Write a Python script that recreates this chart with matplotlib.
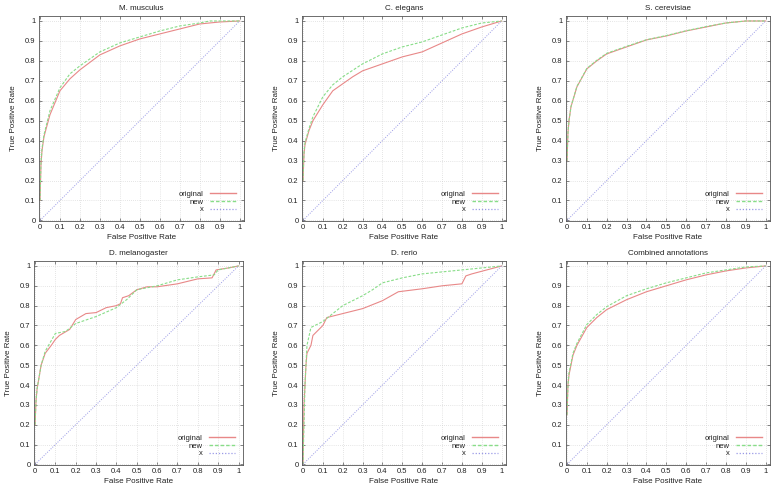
import matplotlib.pyplot as plt
from matplotlib.lines import Line2D

plt.rcParams['font.family'] = ['Liberation Sans', 'DejaVu Sans']

titles = ['M. musculus', 'C. elegans', 'S. cerevisiae',
          'D. melanogaster', 'D. rerio', 'Combined annotations']

# M. musculus
mm_fpr_orig = [0, 0.005, 0.01, 0.02, 0.05, 0.1, 0.15, 0.2, 0.3, 0.4, 0.5, 0.6, 0.7, 0.8, 0.85, 0.9, 1.0]
mm_tpr_orig = [0.1, 0.28, 0.35, 0.42, 0.53, 0.65, 0.71, 0.755, 0.83, 0.875, 0.91, 0.935, 0.96, 0.985, 0.99, 0.995, 1.0]
mm_fpr_new = [0, 0.005, 0.01, 0.02, 0.05, 0.1, 0.15, 0.2, 0.3, 0.4, 0.5, 0.6, 0.7, 0.8, 0.85, 1.0]
mm_tpr_new = [0.1, 0.29, 0.36, 0.43, 0.55, 0.665, 0.735, 0.775, 0.845, 0.89, 0.92, 0.95, 0.975, 0.99, 1.0, 1.0]

# C. elegans
ce_fpr_orig = [0, 0.005, 0.01, 0.03, 0.05, 0.1, 0.15, 0.2, 0.25, 0.3, 0.4, 0.5, 0.6, 0.7, 0.8, 0.9, 1.0]
ce_tpr_orig = [0.2, 0.33, 0.38, 0.45, 0.5, 0.58, 0.65, 0.685, 0.72, 0.75, 0.785, 0.82, 0.845, 0.89, 0.935, 0.97, 1.0]
ce_fpr_new = [0, 0.005, 0.01, 0.03, 0.05, 0.1, 0.15, 0.2, 0.3, 0.4, 0.5, 0.6, 0.7, 0.8, 0.9, 1.0]
ce_tpr_new = [0.2, 0.34, 0.39, 0.46, 0.52, 0.62, 0.68, 0.72, 0.785, 0.835, 0.87, 0.895, 0.93, 0.965, 0.99, 1.0]

# S. cerevisiae
sc_fpr_orig = [0, 0.005, 0.01, 0.02, 0.05, 0.1, 0.15, 0.2, 0.3, 0.4, 0.5, 0.6, 0.7, 0.8, 0.9, 1.0]
sc_tpr_orig = [0.3, 0.44, 0.5, 0.57, 0.67, 0.76, 0.8, 0.835, 0.87, 0.905, 0.925, 0.95, 0.97, 0.99, 1.0, 1.0]
sc_fpr_new = [0, 0.005, 0.01, 0.02, 0.05, 0.1, 0.15, 0.2, 0.3, 0.4, 0.5, 0.6, 0.7, 0.8, 0.9, 1.0]
sc_tpr_new = [0.3, 0.44, 0.5, 0.57, 0.672, 0.762, 0.803, 0.838, 0.873, 0.906, 0.927, 0.951, 0.972, 0.99, 1.0, 1.0]

# D. melanogaster
dm_fpr_orig = [0, 0.005, 0.01, 0.03, 0.05, 0.08, 0.1, 0.12, 0.17, 0.2, 0.25, 0.3, 0.35, 0.4, 0.42, 0.43,
               0.46, 0.5, 0.55, 0.6, 0.7, 0.8, 0.87, 0.89, 0.95, 1.0]
dm_tpr_orig = [0.2, 0.32, 0.38, 0.5, 0.56, 0.6, 0.63, 0.65, 0.68, 0.73, 0.76, 0.765, 0.79, 0.8, 0.81, 0.84,
               0.85, 0.88, 0.895, 0.895, 0.91, 0.935, 0.94, 0.98, 0.99, 1.0]
dm_fpr_new = [0, 0.005, 0.01, 0.03, 0.05, 0.1, 0.15, 0.2, 0.3, 0.4, 0.45, 0.5, 0.6, 0.7, 0.8, 0.88, 0.9, 1.0]
dm_tpr_new = [0.2, 0.32, 0.38, 0.5, 0.57, 0.66, 0.67, 0.71, 0.745, 0.79, 0.83, 0.88, 0.9, 0.93, 0.945, 0.955, 0.98, 1.0]

# D. rerio
dr_fpr_orig = [0, 0.005, 0.015, 0.02, 0.04, 0.05, 0.07, 0.1, 0.12, 0.2, 0.3, 0.4, 0.48, 0.6, 0.7, 0.8,
               0.82, 0.85, 1.0]
dr_tpr_orig = [0, 0.3, 0.5, 0.56, 0.6, 0.65, 0.67, 0.7, 0.74, 0.76, 0.785, 0.825, 0.87, 0.885, 0.9, 0.91,
               0.95, 0.96, 1.0]
dr_fpr_new = [0, 0.01, 0.02, 0.04, 0.1, 0.2, 0.3, 0.35, 0.4, 0.5, 0.6, 0.7, 0.8, 0.9, 1.0]
dr_tpr_new = [0, 0.4, 0.6, 0.69, 0.72, 0.8, 0.85, 0.88, 0.915, 0.94, 0.96, 0.97, 0.98, 0.99, 1.0]

# Combined annotations
ca_fpr_orig = [0, 0.005, 0.01, 0.03, 0.05, 0.1, 0.15, 0.2, 0.3, 0.4, 0.5, 0.6, 0.7, 0.8, 0.9, 1.0]
ca_tpr_orig = [0.25, 0.4, 0.45, 0.55, 0.6, 0.69, 0.74, 0.78, 0.83, 0.87, 0.9, 0.93, 0.955, 0.975, 0.99, 1.0]
ca_fpr_new = [0, 0.005, 0.01, 0.03, 0.05, 0.1, 0.15, 0.2, 0.3, 0.4, 0.5, 0.6, 0.7, 0.8, 0.9, 1.0]
ca_tpr_new = [0.25, 0.4, 0.46, 0.56, 0.61, 0.705, 0.755, 0.795, 0.85, 0.885, 0.915, 0.94, 0.965, 0.98, 0.995, 1.0]

curves = [
    (mm_fpr_orig, mm_tpr_orig, mm_fpr_new, mm_tpr_new),
    (ce_fpr_orig, ce_tpr_orig, ce_fpr_new, ce_tpr_new),
    (sc_fpr_orig, sc_tpr_orig, sc_fpr_new, sc_tpr_new),
    (dm_fpr_orig, dm_tpr_orig, dm_fpr_new, dm_tpr_new),
    (dr_fpr_orig, dr_tpr_orig, dr_fpr_new, dr_tpr_new),
    (ca_fpr_orig, ca_tpr_orig, ca_fpr_new, ca_tpr_new),
]

diag = [0, 1]
ticks = [0, 0.1, 0.2, 0.3, 0.4, 0.5, 0.6, 0.7, 0.8, 0.9, 1]
tick_labels = ['0', '0.1', '0.2', '0.3', '0.4', '0.5', '0.6', '0.7', '0.8', '0.9', '1']

c_orig = '#e88888'
c_new = '#88dd88'
c_x = '#9999e6'

W, H = 774, 488
# axes boxes in pixels: left, top, right, bottom
boxes = [(39, 16, 244, 221), (302, 16, 506, 221), (566, 16, 770, 221),
         (34, 261, 243, 465), (302, 261, 506, 465), (566, 261, 770, 465)]

fig = plt.figure(figsize=(W / 100, H / 100), dpi=100)

for i in range(6):
    l, t, r, b = boxes[i]
    ax = fig.add_axes([l / W, 1 - b / H, (r - l) / W, (b - t) / H])
    fo, to, fn, tn = curves[i]
    ax.plot(fo, to, color=c_orig, lw=0.8)
    ax.plot(fn, tn, color=c_new, lw=0.8, ls=(0, (2.5, 1.5)))
    ax.plot(diag, diag, color=c_x, lw=0.7, ls=(0, (1, 1.5)))
    ax.set_xlim(-0.005, 1.022)
    ax.set_ylim(-0.003, 1.025)
    ax.set_xticks(ticks)
    ax.set_xticklabels(tick_labels)
    ax.set_yticks(ticks)
    ax.set_yticklabels(tick_labels)
    ax.tick_params(direction='in', length=2.5, width=0.5, labelsize=5.5, pad=2.5,
                   top=True, right=True, color='#555555', labelcolor='#222222')
    ax.grid(True, color='#cccccc', ls=(0, (1, 2)), lw=0.5)
    for s in ax.spines.values():
        s.set_linewidth(0.6)
        s.set_color('#555555')
    ax.set_title(titles[i], fontsize=5.8, pad=4, color='#222222')
    ax.set_xlabel('False Positive Rate', fontsize=5.8, labelpad=2, color='#222222')
    ax.set_ylabel('True Positive Rate', fontsize=5.8, labelpad=6, color='#222222')
    handles = [Line2D([], [], color=c_orig, lw=1.0),
               Line2D([], [], color=c_new, lw=1.0, ls=(0, (2.5, 1.5))),
               Line2D([], [], color=c_x, lw=0.9, ls=(0, (1, 1.5)))]
    ax.legend(handles, ['original', 'new', 'x'], loc='lower right', frameon=False,
              fontsize=5.5, markerfirst=False, handlelength=3.5, handletextpad=0.8,
              labelspacing=0.05, borderaxespad=0.6, labelcolor='#222222')

fig.savefig('out.png', dpi=100)
